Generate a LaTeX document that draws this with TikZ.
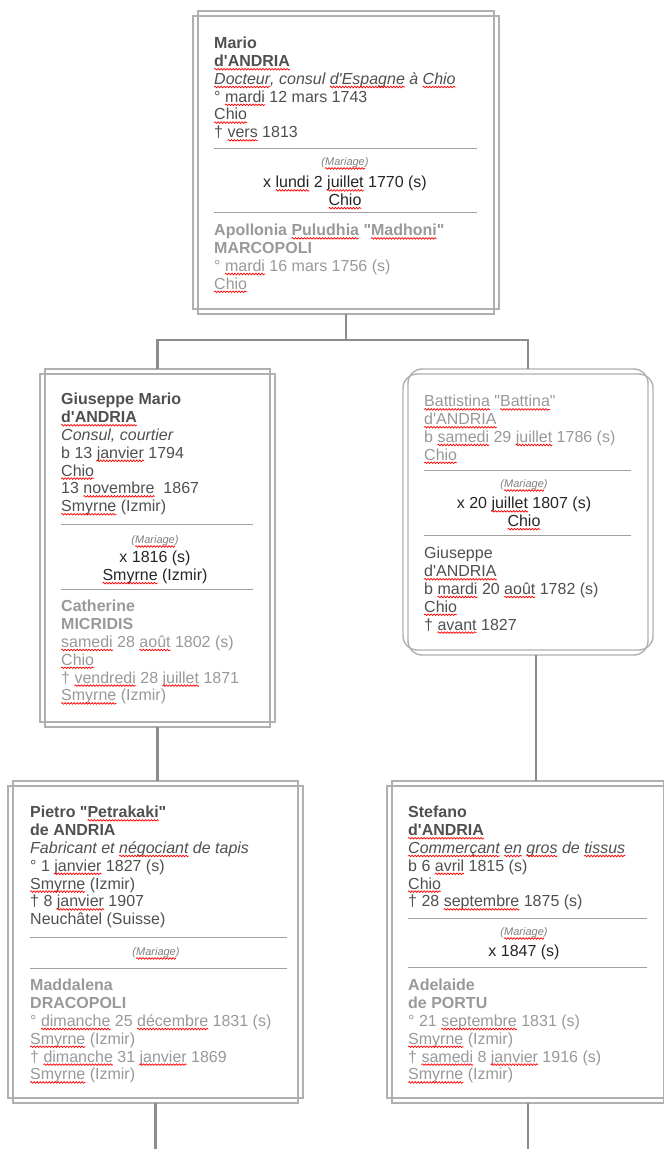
\documentclass[tikz,border=0pt]{standalone}
\usepackage{fontspec}
\setmainfont{Liberation Sans}[Ligatures=TeXOff]
\usetikzlibrary{decorations.pathmorphing}
\definecolor{ink}{HTML}{505050}
\definecolor{pale}{HTML}{999999}
\definecolor{framegray}{HTML}{B0B0B0}
\definecolor{linkgray}{HTML}{8C8C8C}
\definecolor{sepgray}{HTML}{A0A0A0}
\newcommand{\sq}[1]{\tikz[baseline=(w.base)]{\node[anchor=base,inner sep=0pt,outer sep=0pt] (w) {#1};
  \draw[overlay,red,line width=0.7pt,decorate,decoration={snake,amplitude=0.8pt,segment length=3pt}]
    ([yshift=-2.6pt]w.base west) -- ([yshift=-2.6pt]w.base east);}}
\newcommand{\dframe}[2][]{%
  \draw[frame,#1] ([xshift=5pt]#2.north west) rectangle ([xshift=-5pt]#2.south east);
  \draw[frame,#1] ([yshift=-5pt]#2.north west) rectangle ([yshift=5pt]#2.south east);}

\begin{document}
\begin{tikzpicture}[x=1pt,y=-1pt,
  card/.style={inner sep=0pt,outer sep=0pt},
  frame/.style={draw=framegray,line width=1.4pt},
  line/.style={draw=linkgray,line width=2.6pt},
  sep/.style={draw=sepgray,line width=0.8pt},
  who/.style={anchor=north west,align=left,inner sep=0pt,text=ink,
    font=\fontsize{16}{17.8}\selectfont},
  spouse/.style={who,text=pale},
  wed/.style={anchor=north,align=center,inner sep=0pt,text=black!85,
    font=\fontsize{16}{17.8}\selectfont},
  tag/.style={inner sep=0pt,text=gray,font=\fontsize{11}{12}\selectfont\itshape}]
    \useasboundingbox[fill=white] (0,0) rectangle (664,1149);

    %Mario
    \node[card,minimum width=306pt,minimum height=303pt] (mario) at (346,162.5) {};
    \dframe{mario}
    \node[who] (mario-txt) at (214,37) {\textbf{Mario}\\ \textbf{\sq{d'ANDRIA}}\\
      \textit{\sq{Docteur}, consul \sq{d'Espagne} à \sq{Chio}}\\
      ° \sq{mardi} 12 mars 1743\\ \sq{Chio}\\ † \sq{vers} 1813};
    \draw[sep] (214,148) -- (477,148);
    \node[tag] (mario-tag) at (345,163) {(\sq{Mariage})};
    \node[wed] (mario-wed) at (345,176) {x \sq{lundi} 2 \sq{juillet} 1770 (s)\\ \sq{Chio}};
    \draw[sep] (214,212) -- (477,212);
    \node[spouse] (apollonia) at (214,224) {\textbf{Apollonia \sq{Puludhia} "\sq{Madhoni}"}\\
      \textbf{MARCOPOLI}\\ ° \sq{mardi} 16 mars 1756 (s)\\ \sq{Chio}};

    %Giuseppe Mario
    \node[card,minimum width=235pt,minimum height=358pt] (giuseppe) at (157.5,548) {};
    \dframe{giuseppe}
    \node[who] (giuseppe-txt) at (61,393) {\textbf{Giuseppe Mario}\\ \textbf{\sq{d'ANDRIA}}\\
      \textit{Consul, courtier}\\ b 13 \sq{janvier} 1794\\ \sq{Chio}\\
      13 \sq{novembre}~ 1867\\ \sq{Smyrne} (Izmir)};
    \draw[sep] (61,524) -- (253,524);
    \node[tag] (giuseppe-tag) at (155,541) {(\sq{Mariage})};
    \node[wed] (giuseppe-wed) at (155,551) {x 1816 (s)\\ \sq{Smyrne} (Izmir)};
    \draw[sep] (61,589) -- (253,589);
    \node[spouse] (catherine) at (61,600) {\textbf{Catherine}\\ \textbf{MICRIDIS}\\
      \sq{samedi} 28 \sq{août} 1802 (s)\\ \sq{Chio}\\
      † \sq{vendredi} 28 \sq{juillet} 1871\\ \sq{Smyrne} (Izmir)};

    %Battistina
    \node[card,minimum width=250pt,minimum height=286pt] (battistina) at (528,512) {};
    \dframe[rounded corners=14pt]{battistina}
    \node[spouse] (battistina-txt) at (424,395) {\sq{Battistina} "\sq{Battina}"\\ \sq{d'ANDRIA}\\
      b \sq{samedi} 29 \sq{juillet} 1786 (s)\\ \sq{Chio}};
    \draw[sep] (424,470) -- (631,470);
    \node[tag] (battistina-tag) at (524,485) {(\sq{Mariage})};
    \node[wed] (battistina-wed) at (524,497) {x 20 \sq{juillet} 1807 (s)\\ \sq{Chio}};
    \draw[sep] (424,535) -- (631,535);
    \node[who] (giuseppe-b) at (424,547) {Giuseppe\\ \sq{d'ANDRIA}\\
      b \sq{mardi} 20 \sq{août} 1782 (s)\\ \sq{Chio}\\ † \sq{avant} 1827};

    %Pietro
    \node[card,minimum width=295pt,minimum height=322pt] (pietro) at (155.5,942) {};
    \dframe{pietro}
    \node[who] (pietro-txt) at (30,806) {\textbf{Pietro "\sq{Petrakaki}"}\\ \textbf{de ANDRIA}\\
      \textit{Fabricant et \sq{négociant} de tapis}\\ ° 1 \sq{janvier} 1827 (s)\\
      \sq{Smyrne} (Izmir)\\ † 8 \sq{janvier} 1907\\ Neuchâtel (Suisse)};
    \draw[sep] (30,937) -- (287,937);
    \node[tag] (pietro-tag) at (156,953) {(\sq{Mariage})};
    \draw[sep] (30,968) -- (287,968);
    \node[spouse] (maddalena) at (30,979) {\textbf{Maddalena}\\ \textbf{DRACOPOLI}\\
      ° \sq{dimanche} 25 \sq{décembre} 1831 (s)\\ \sq{Smyrne} (Izmir)\\
      † \sq{dimanche} 31 \sq{janvier} 1869\\ \sq{Smyrne} (Izmir)};

    %Stefano
    \node[card,minimum width=282pt,minimum height=322pt] (stefano) at (528,942) {};
    \dframe{stefano}
    \node[who] (stefano-txt) at (408,806) {\textbf{Stefano}\\ \textbf{\sq{d'ANDRIA}}\\
      \textit{\sq{Commerçant} \sq{en} \sq{gros} de \sq{tissus}}\\ b 6 \sq{avril} 1815 (s)\\
      \sq{Chio}\\ † 28 \sq{septembre} 1875 (s)};
    \draw[sep] (408,918) -- (647,918);
    \node[tag] (stefano-tag) at (524,933) {(\sq{Mariage})};
    \node[wed] (stefano-wed) at (524,945) {x 1847 (s)};
    \draw[sep] (408,967) -- (647,967);
    \node[spouse] (adelaide) at (408,979) {\textbf{Adelaide}\\ \textbf{de PORTU}\\
      ° 21 \sq{septembre} 1831 (s)\\ \sq{Smyrne} (Izmir)\\
      † \sq{samedi} 8 \sq{janvier} 1916 (s)\\ \sq{Smyrne} (Izmir)};

    % links
    \coordinate (fork) at (346,340);
    \draw[line] (mario.south) -- (fork);
    \draw[line] (giuseppe.north) |- (fork) -| (battistina.north);
    \draw[line] (giuseppe.south) -- (giuseppe.south |- pietro.north);
    \draw[line] ([xshift=8pt]battistina.south) -- ([xshift=8pt]battistina.south |- stefano.north);
    \path (pietro.south) ++(1.5,46) coordinate (pietro-end);
    \path (stefano.south) ++(-1,46) coordinate (stefano-end);
    \draw[line] (pietro.south) -- (pietro.south |- pietro-end);
    \draw[line] (stefano.south) -- (stefano.south |- stefano-end);
\end{tikzpicture}
\end{document}
